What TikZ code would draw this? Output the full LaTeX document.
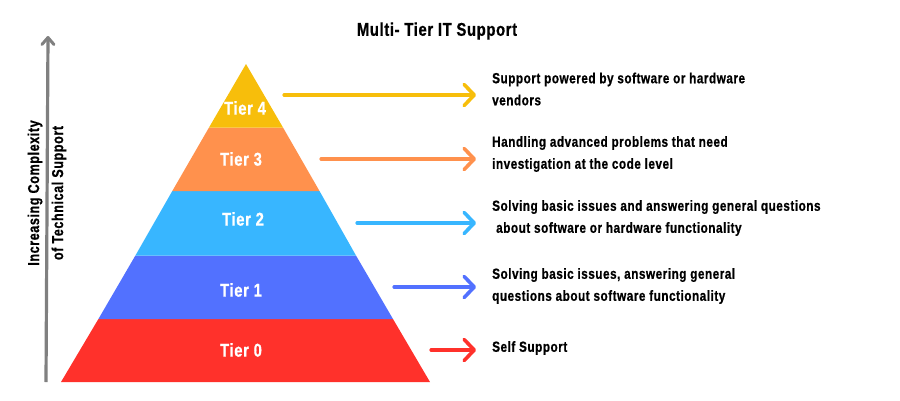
\documentclass[tikz,border=0pt]{standalone}
\usepackage{fontspec}
\setmainfont{Liberation Sans}[FakeStretch=0.80,LetterSpace=3.5,BoldFeatures={FakeBold=0.7}]
\usetikzlibrary{arrows.meta,positioning}

\definecolor{tiery}{HTML}{F7BE0B}
\definecolor{tiero}{HTML}{FF914D}
\definecolor{tierc}{HTML}{38B6FF}
\definecolor{tierb}{HTML}{5271FF}
\definecolor{tierr}{HTML}{FF312B}
\definecolor{axisg}{HTML}{808080}

\tikzset{
  tierlabel/.style={text=white,font=\bfseries\fontsize{18.5}{20}\selectfont,inner sep=0pt},
  note/.style={anchor=west,align=left,inner sep=0pt,font=\bfseries\fontsize{14.7}{22}\selectfont},
  sidelabel/.style={rotate=90,inner sep=0pt,font=\bfseries\fontsize{15.8}{18}\selectfont},
  tierarrow/.style={line width=3.2pt,line cap=round,-{Straight Barb[length=10pt,width=21pt,line width=3.6pt,round]}},
}

\begin{document}
\begin{tikzpicture}[x=1pt,y=-1pt]
  \useasboundingbox (0,0) rectangle (900,400);

  \fill[tierr] (98.4,319) -- (393,319) -- (430,382) -- (61,382) -- cycle;
  \fill[tierb] (135.4,255.5) -- (356,255.5) -- (393,319) -- (98.4,319) -- cycle;
  \fill[tierc] (172.3,191) -- (319.5,191) -- (356,255.5) -- (135.4,255.5) -- cycle;
  \fill[tiero] (209,127.5) -- (283,127.5) -- (319.5,191) -- (172.3,191) -- cycle;
  \fill[tiery] (246,64) -- (283,127.5) -- (209,127.5) -- cycle;

  \node[tierlabel] (t4) at (245,108) {Tier 4};
  \node[tierlabel] (t3) at (241,159) {Tier 3};
  \node[tierlabel] (t2) at (243,219) {Tier 2};
  \node[tierlabel] (t1) at (241,290) {Tier 1};
  \node[tierlabel] (t0) at (241,350) {Tier 0};

  \node[inner sep=0pt,font=\bfseries\fontsize{18.5}{20}\selectfont] (title) at (437,31) {Multi- Tier IT Support};

  \node[sidelabel] (inc) at (35,193) {Increasing Complexity};
  \node[sidelabel] (tec) at (59,193) {of Technical Support};

  \coordinate (ab) at (46,382);
  \coordinate (at) at (48,36);
  \draw[axisg,line width=3.2pt,-{Straight Barb[length=7pt,width=12pt,line width=3pt,round]}] (ab) -- (at);

  \node[note] (n4) at (492,89) {Support powered by software or hardware\\vendors};
  \node[note] (n3) at (492,154) {Handling advanced problems that need\\investigation at the code level};
  \node[note] (n2) at (492,218) {Solving basic issues and answering general questions\\\hspace*{4pt}about software or hardware functionality};
  \node[note] (n1) at (492,286) {Solving basic issues, answering general\\questions about software functionality};
  \node[note] (n0) at (492,348) {Self Support};

  \coordinate (s4) at (284,95);
  \coordinate (s3) at (321,159);
  \coordinate (s2) at (357,223);
  \coordinate (s1) at (394,287);
  \coordinate (s0) at (431,350);
  \coordinate (e4) at (476,95);
  \coordinate (e3) at (476,159);
  \coordinate (e2) at (476,223);
  \coordinate (e1) at (476,287);
  \coordinate (e0) at (476,350);

  \draw[tierarrow,tiery] (s4) -- (e4);
  \draw[tierarrow,tiero] (s3) -- (e3);
  \draw[tierarrow,tierc] (s2) -- (e2);
  \draw[tierarrow,tierb] (s1) -- (e1);
  \draw[tierarrow,tierr] (s0) -- (e0);
\end{tikzpicture}
\end{document}
